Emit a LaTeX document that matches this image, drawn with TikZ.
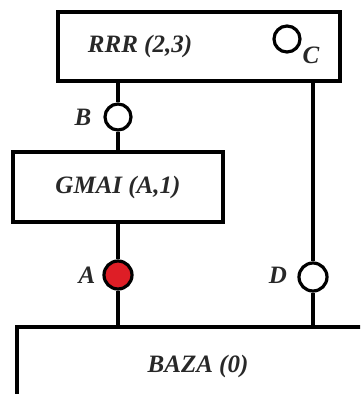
\documentclass[tikz,border=0pt]{standalone}
\usepackage{fontspec}
\setmainfont{Liberation Serif}
\definecolor{txt}{RGB}{40,40,40}
\definecolor{redfill}{RGB}{222,30,38}
\begin{document}
\begin{tikzpicture}[x=1pt,y=-1pt,
  box/.style={draw=black,line width=3.6pt,rectangle,inner sep=0pt,font=\fontsize{25}{29}\selectfont\bfseries\itshape,text=txt},
  lab/.style={font=\fontsize{25}{29}\selectfont\bfseries\itshape,text=txt,inner sep=0pt},
  port/.style={draw=black,line width=3.2pt,circle,inner sep=0pt,minimum size=26pt,fill=white},
  wire/.style={line width=3.6pt,black}]
\clip (0,0) rectangle (360,394);
\node[box,minimum width=282pt,minimum height=69pt] (rrr) at (199,46.5) {};
\node[lab] (rrrt) at (140,46) {RRR (2,3)};
\node[box,minimum width=210pt,minimum height=70pt] (gmai) at (118,187) {GMAI (A,1)};
\node[box,minimum width=400pt,minimum height=100pt] (baza) at (217,377) {};
\node[lab] (bazat) at (198,366) {BAZA (0)};
\node[port,minimum size=26pt] (C) at (287,39) {};
\node[lab] (Cl) at (311,55) {C};
\node[port] (B) at (118,117) {};
\node[lab] (Bl) at (83,117) {B};
\node[port,fill=redfill,minimum size=28pt] (A) at (118,275) {};
\node[lab] (Al) at (87,275) {A};
\node[port,minimum size=28pt] (D) at (313,277) {};
\node[lab] (Dl) at (278,275) {D};
\draw[wire] (B) -- (B |- rrr.south);
\draw[wire] (B) -- (B |- gmai.north);
\draw[wire] (A) -- (A |- gmai.south);
\draw[wire] (A) -- (A |- baza.north);
\draw[wire] (D) -- (D |- rrr.south);
\draw[wire] (D) -- (D |- baza.north);
\end{tikzpicture}
\end{document}
